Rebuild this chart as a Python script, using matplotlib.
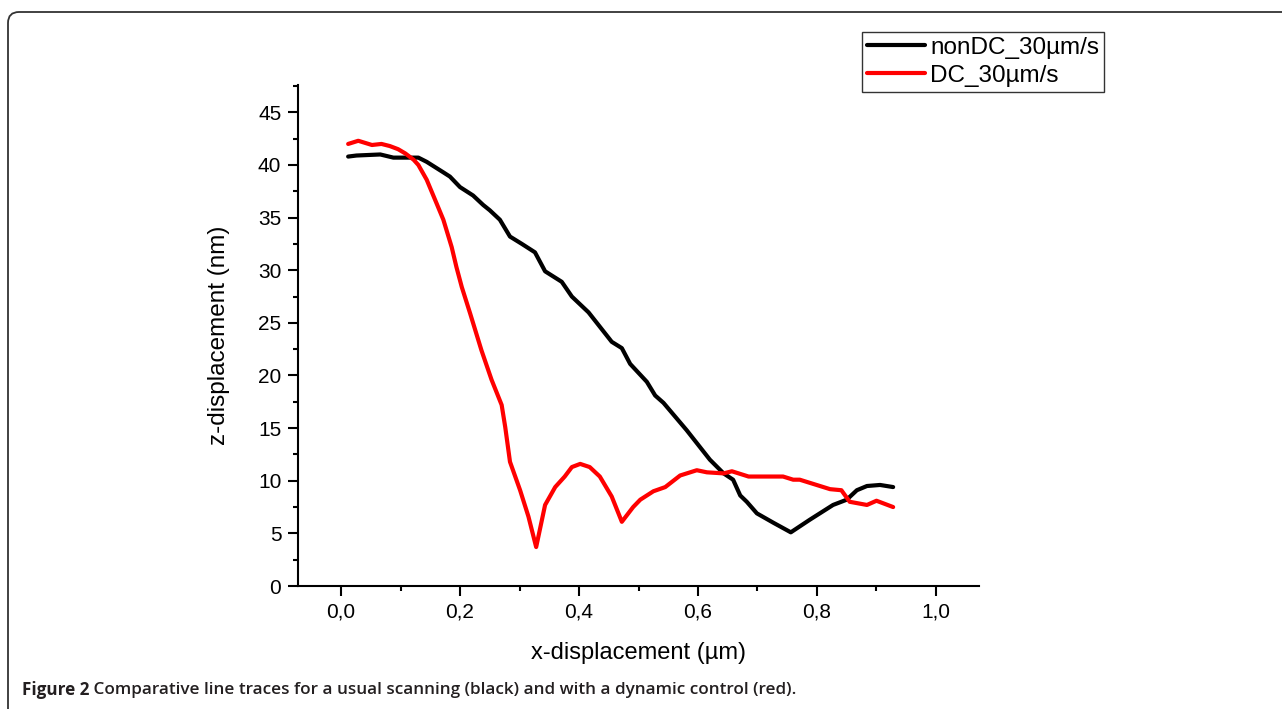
import matplotlib
matplotlib.use("Agg")
import matplotlib.pyplot as plt
from matplotlib.patches import FancyBboxPatch
from matplotlib.ticker import MultipleLocator, FuncFormatter
from matplotlib import font_manager

names = {f.name for f in font_manager.fontManager.ttflist}
cap_font = "Liberation Sans Narrow" if "Liberation Sans Narrow" in names else "Open Sans"
plt.rcParams["font.family"] = ["Liberation Sans", "DejaVu Sans"]

# data
x_nondc = [0.012, 0.026, 0.066, 0.088, 0.108, 0.130, 0.144, 0.172, 0.183, 0.200,
           0.222, 0.239, 0.250, 0.267, 0.284, 0.304, 0.326, 0.343, 0.371, 0.388,
           0.416, 0.455, 0.472, 0.486, 0.514, 0.528, 0.542, 0.581, 0.620, 0.643,
           0.659, 0.671, 0.682, 0.699, 0.727, 0.756, 0.788, 0.827, 0.850, 0.867,
           0.884, 0.906, 0.928]
z_nondc = [40.8, 40.9, 41.0, 40.7, 40.7, 40.7, 40.3, 39.3, 38.9, 37.9,
           37.1, 36.2, 35.7, 34.8, 33.2, 32.5, 31.7, 29.9, 28.9, 27.5,
           26.0, 23.2, 22.6, 21.1, 19.4, 18.1, 17.4, 14.8, 12.0, 10.7,
           10.1, 8.6, 8.0, 6.9, 6.0, 5.1, 6.3, 7.7, 8.2, 9.1,
           9.5, 9.6, 9.4]

x_dc = [0.012, 0.029, 0.052, 0.068, 0.082, 0.096, 0.108, 0.122, 0.130, 0.144,
        0.161, 0.172, 0.186, 0.194, 0.203, 0.217, 0.236, 0.253, 0.270, 0.276,
        0.284, 0.301, 0.315, 0.328, 0.343, 0.360, 0.376, 0.388, 0.402, 0.418,
        0.435, 0.455, 0.472, 0.491, 0.503, 0.525, 0.545, 0.570, 0.598, 0.615,
        0.643, 0.657, 0.685, 0.743, 0.760, 0.771, 0.822, 0.841, 0.855, 0.884,
        0.900, 0.928]
z_dc = [42.0, 42.3, 41.9, 42.0, 41.8, 41.5, 41.1, 40.5, 40.0, 38.6,
        36.3, 34.8, 32.2, 30.3, 28.4, 25.9, 22.4, 19.6, 17.2, 15.1,
        11.8, 9.1, 6.6, 3.7, 7.7, 9.4, 10.4, 11.3, 11.6, 11.3,
        10.4, 8.5, 6.1, 7.5, 8.2, 9.0, 9.4, 10.5, 11.0, 10.8,
        10.7, 10.9, 10.4, 10.4, 10.1, 10.1, 9.2, 9.1, 8.0, 7.7,
        8.1, 7.5]

labels = ["nonDC_30µm/s", "DC_30µm/s"]
caption_bold = "Figure 2"
caption_rest = " Comparative line traces for a usual scanning (black) and with a dynamic control (red)."

W, H = 1282, 709
fig = plt.figure(figsize=(W / 100, H / 100), dpi=100)

# rounded frame around the figure (cut at right and bottom)
frame = FancyBboxPatch((8, -40), W + 40, H - 12 + 40, boxstyle="round,pad=0,rounding_size=11",
                       transform=None, fill=False, edgecolor="#333333", linewidth=1.3)
fig.patches.append(frame)

ax = fig.add_axes([298 / W, 1 - 586 / H, (979 - 298) / W, (586 - 85) / H])
l1, = ax.plot(x_nondc, z_nondc, color="black", lw=3, solid_joinstyle="round", solid_capstyle="round")
l2, = ax.plot(x_dc, z_dc, color="#ff0000", lw=3, solid_joinstyle="round", solid_capstyle="round")

ax.set_xlim(-0.0723, 1.0723)
ax.set_ylim(0, 47.6)
for s in ["top", "right"]:
    ax.spines[s].set_visible(False)
for s in ["left", "bottom"]:
    ax.spines[s].set_linewidth(1.5)

ax.xaxis.set_major_locator(MultipleLocator(0.2))
ax.xaxis.set_minor_locator(MultipleLocator(0.1))
ax.yaxis.set_major_locator(MultipleLocator(5))
ax.yaxis.set_minor_locator(MultipleLocator(2.5))
ax.xaxis.set_major_formatter(FuncFormatter(lambda v, p: f"{v:.1f}".replace(".", ",")))
ax.yaxis.set_major_formatter(FuncFormatter(lambda v, p: f"{v:.0f}"))
ax.tick_params(which="major", direction="out", length=7, width=1.5, labelsize=15, pad=5)
ax.tick_params(which="minor", direction="out", length=3.6, width=1.5)

ax.set_xlabel("x-displacement (µm)", fontsize=17, labelpad=15)
ax.set_ylabel("z-displacement (nm)", fontsize=17.5, labelpad=20)

leg = fig.legend([l1, l2], labels, loc="upper left", bbox_to_anchor=(862 / W, 1 - 32 / H),
                 fontsize=17.5, frameon=True, fancybox=False, edgecolor="black",
                 handlelength=2.4, handletextpad=0.2, labelspacing=0.25, borderpad=0.2,
                 borderaxespad=0)
leg.get_frame().set_linewidth(1.0)

t1 = fig.text(22 / W, 1 - 690 / H, caption_bold, fontsize=12.3, fontweight="bold",
              family=[cap_font, "DejaVu Sans"], va="center", color="#231f20")
fig.canvas.draw()
bb = t1.get_window_extent()
fig.text(bb.x1 / W, 1 - 690 / H, caption_rest, fontsize=12.3, fontweight="semibold",
         family=[cap_font, "DejaVu Sans"], va="center", color="#231f20")

fig.savefig("out.png", dpi=100)
